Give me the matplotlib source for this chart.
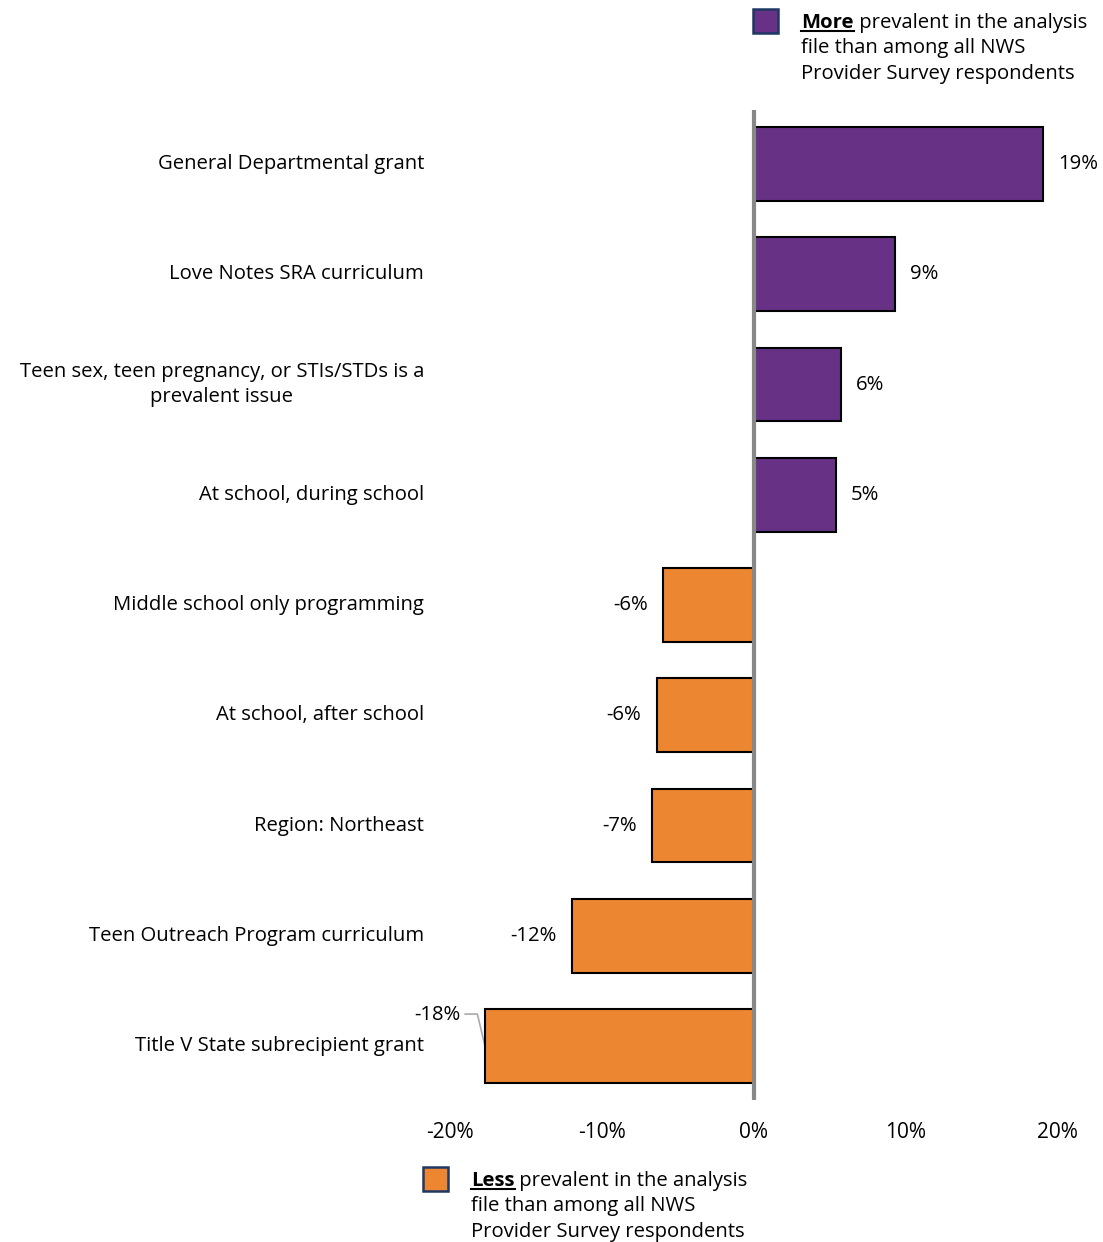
import numpy as np
import matplotlib.pyplot as plt
from matplotlib.transforms import blended_transform_factory

plt.rcParams['font.family'] = ['Open Sans', 'DejaVu Sans']

categories = ['General Departmental grant',
              'Love Notes SRA curriculum',
              'Teen sex, teen pregnancy, or STIs/STDs is a\nprevalent issue',
              'At school, during school',
              'Middle school only programming',
              'At school, after school',
              'Region: Northeast',
              'Teen Outreach Program curriculum',
              'Title V State subrecipient grant']
values = [19.0, 9.3, 5.7, 5.4, -6.0, -6.4, -6.7, -12.0, -17.7]
labels = ['19%', '9%', '6%', '5%', '-6%', '-6%', '-7%', '-12%', '-18%']
ticks = [-20, -10, 0, 10, 20]
tick_labels = ['-20%', '-10%', '0%', '10%', '20%']

PURPLE = '#673286'
ORANGE = '#ED8631'
FS = 14.6
W, H = 1103, 1242

fig = plt.figure(figsize=(W / 100, H / 100), dpi=100)
ax = fig.add_axes([0.408, 0.1143, 0.551, 0.7971])

y = np.arange(len(categories))
colors = [PURPLE if v > 0 else ORANGE for v in values]
ax.barh(y, values, height=0.67, color=colors, edgecolor='black', linewidth=1.5, zorder=2)
ax.axvline(0, color='#888888', lw=3, zorder=3)

ax.set_xlim(-20, 20)
ax.set_ylim(8.49, -0.49)
for s in ax.spines.values():
    s.set_visible(False)
ax.set_yticks([])
ax.set_xticks(ticks)
ax.set_xticklabels(tick_labels, fontsize=15)
ax.tick_params(axis='x', length=0, pad=16)

# category names right-aligned to the left of the plot area
trans = blended_transform_factory(fig.transFigure, ax.transData)
for yi, cat in zip(y, categories):
    ax.text(424 / W, yi, cat, transform=trans, ha='right', va='center',
            multialignment='center', fontsize=FS, linespacing=1.35)

# value labels
last = len(values) - 1
for yi, v, lab in zip(y, values, labels):
    if yi == last:
        ax.text(-19.3, yi - 0.28, lab, ha='right', va='center', fontsize=FS)
        ax.plot([-19.0, -18.2, v], [yi - 0.29, yi - 0.29, yi],
                color='#aaaaaa', lw=1.2, zorder=1)
    elif v > 0:
        ax.text(v + 1.0, yi, lab, ha='left', va='center', fontsize=FS)
    else:
        ax.text(v - 1.0, yi, lab, ha='right', va='center', fontsize=FS)


def legend_entry(x_px, y_px, color, word):
    sq = plt.Rectangle((x_px / W, 1 - (y_px + 12) / H), 25 / W, 24 / H,
                       transform=fig.transFigure, facecolor=color,
                       edgecolor='#1f3864', lw=1.8)
    fig.add_artist(sq)
    tx = (x_px + 48) / W
    base = y_px + 7
    t0 = fig.text(tx, 1 - base / H, word, fontsize=FS, fontweight='bold',
                  va='baseline', ha='left')
    fig.canvas.draw()
    bb = t0.get_window_extent()
    x1 = bb.x1 / W
    fig.add_artist(plt.Line2D([tx, x1], [1 - (base + 3) / H] * 2,
                              transform=fig.transFigure, color='black', lw=1.5))
    fig.text(x1, 1 - base / H, ' prevalent in the analysis', fontsize=FS,
             va='baseline', ha='left')
    fig.text(tx, 1 - (base + 25) / H, 'file than among all NWS', fontsize=FS,
             va='baseline', ha='left')
    fig.text(tx, 1 - (base + 51) / H, 'Provider Survey respondents', fontsize=FS,
             va='baseline', ha='left')


legend_entry(753, 21, PURPLE, 'More')
legend_entry(423, 1179, ORANGE, 'Less')

fig.savefig('out.png', dpi=100)
